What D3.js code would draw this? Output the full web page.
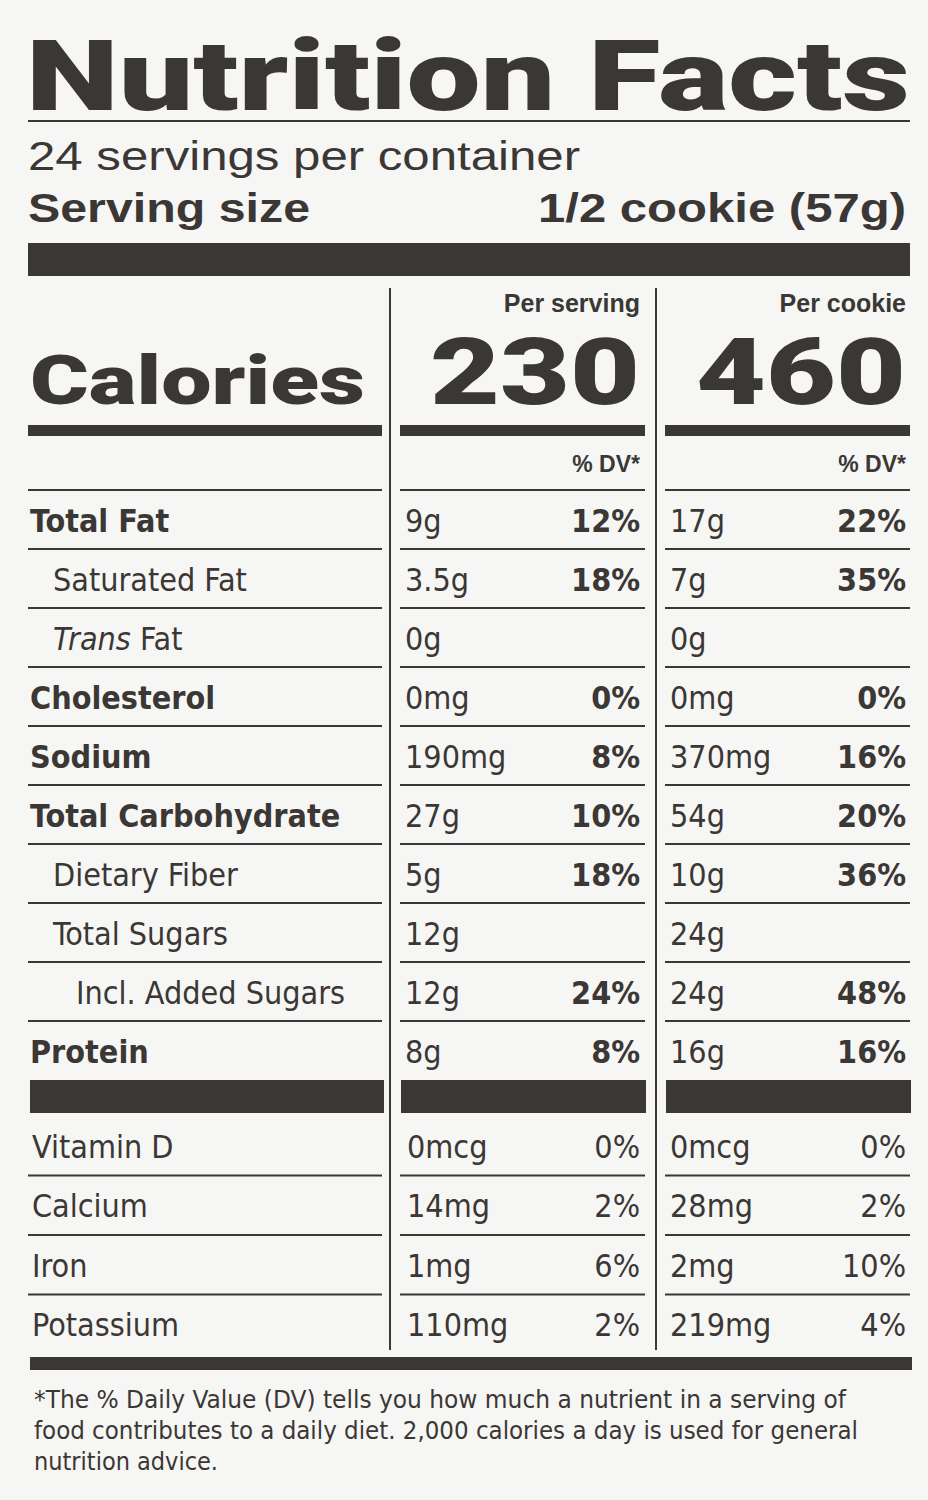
<!DOCTYPE html><html><head><meta charset="utf-8"><script src="https://cdn.jsdelivr.net/npm/d3@7"></script>
<style>body{margin:0;background:#f6f6f4}text{fill:#3b3735}</style></head><body><svg id="c" width="928" height="1500"></svg>
<script>
const nutrients=["Total Fat","Saturated Fat","Trans Fat","Cholesterol","Sodium","Total Carbohydrate","Dietary Fiber","Total Sugars","Incl. Added Sugars","Protein"];
const bold=[1,0,0,1,1,1,0,0,0,1];
const indent=[0,1,1,0,0,0,1,1,2,0];
const servAmt=["9g","3.5g","0g","0mg","190mg","27g","5g","12g","12g","8g"];
const servDV=["12%","18%","","0%","8%","10%","18%","","24%","8%"];
const cookAmt=["17g","7g","0g","0mg","370mg","54g","10g","24g","24g","16g"];
const cookDV=["22%","35%","","0%","16%","20%","36%","","48%","16%"];
const vitamins=["Vitamin D","Calcium","Iron","Potassium"];
const vServAmt=["0mcg","14mg","1mg","110mg"],vServDV=["0%","2%","6%","2%"];
const vCookAmt=["0mcg","28mg","2mg","219mg"],vCookDV=["0%","2%","10%","4%"];
const calories=[230,460];
const svg=d3.select("#c");
const ink="#3b3735",F="'DejaVu Sans Condensed','DejaVu Sans',sans-serif",L="'Liberation Sans',Arial,sans-serif",R="Roboto,'Liberation Sans',sans-serif";
const rect=(x,y,w,h)=>svg.append("rect").attr("x",x).attr("y",y).attr("width",w).attr("height",h).attr("fill",ink);
const txt=(s,x,y,sz,opt={})=>svg.append("text").attr("x",x).attr("y",y).attr("font-size",sz).attr("font-family",opt.f||F).attr("font-weight",opt.w||400).attr("text-anchor",opt.a||"start").text(s);
const fit=(t,len)=>t.attr("textLength",len).attr("lengthAdjust","spacingAndGlyphs");
fit(txt("Nutrition Facts",26,110,98,{f:R,w:900}),884);
rect(28,120,882,2);
fit(txt("24 servings per container",28,170,40,{f:L}),552);
fit(txt("Serving size",28,222,40,{f:L,w:700}),282);
fit(txt("1/2 cookie (57g)",906,222,40,{f:L,w:700,a:"end"}),368);
rect(28,243,882,33);
rect(389,288,2,1062);rect(655,288,2,1062);
const cols=[{x:400,w:245,r:640},{x:665,w:245,r:906}];
txt("Per serving",640,312,25,{f:L,w:700,a:"end"});
txt("Per cookie",906,312,25,{f:L,w:700,a:"end"});
fit(txt("Calories",30,404,68,{f:R,w:900}),335);
calories.forEach((c,i)=>fit(txt(c,cols[i].r,404,92,{f:R,w:900,a:"end"}),210));
rect(28,425,354,11);cols.forEach(c=>rect(c.x,425,c.w,11));
cols.forEach(c=>txt("% DV*",c.r,472,23,{f:L,w:700,a:"end"}));
const y=d3.scaleBand().domain(nutrients).range([490,1080]);
const lines=(yy)=>{rect(28,yy,354,2);cols.forEach(c=>rect(c.x,yy,c.w,2));};
lines(489);
nutrients.forEach((n,i)=>{
 const cy=y(n)+y.bandwidth()/2+12;
 const t=txt("",30+indent[i]*23,cy,32,{w:bold[i]?700:400});
 if(n==="Trans Fat"){t.append("tspan").attr("font-style","italic").text("Trans");t.append("tspan").text(" Fat");}else t.text(n);
 txt(servAmt[i],405,cy,32);txt(servDV[i],640,cy,32,{w:700,a:"end"});
 txt(cookAmt[i],670,cy,32);txt(cookDV[i],906,cy,32,{w:700,a:"end"});
 if(i<nutrients.length-1)lines(y(n)+y.bandwidth()-1);
});
rect(30,1080,354,33);rect(401,1080,245,33);rect(666,1080,245,33);
const yv=d3.scaleBand().domain(vitamins).range([1116,1354]);
vitamins.forEach((v,i)=>{
 const cy=yv(v)+yv.bandwidth()/2+12;
 txt(v,32,cy,32);txt(vServAmt[i],407,cy,32);txt(vServDV[i],640,cy,32,{a:"end"});
 txt(vCookAmt[i],670,cy,32);txt(vCookDV[i],906,cy,32,{a:"end"});
 if(i<vitamins.length-1)lines(yv(v)+yv.bandwidth()-1);
});
rect(30,1357,882,13);
const foot=["*The % Daily Value (DV) tells you how much a nutrient in a serving of","food contributes to a daily diet. 2,000 calories a day is used for general","nutrition advice."];
const footLen=[812,824,184];
foot.forEach((f,i)=>fit(txt(f,34,1408+i*31,25),footLen[i]));
</script></body></html>
